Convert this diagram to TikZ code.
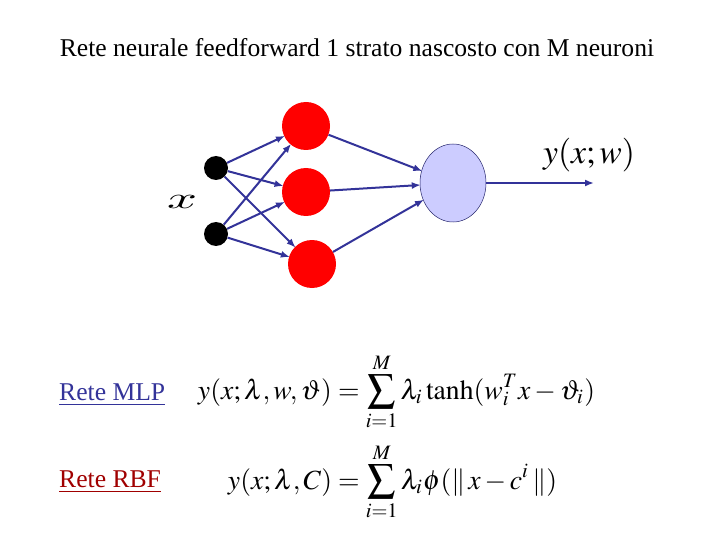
\documentclass[tikz,border=0pt]{standalone}
\usepackage{mathptmx}
\usepackage[no-math]{fontspec}
\setmainfont{Liberation Serif}
\usetikzlibrary{arrows.meta,shapes.geometric}
\definecolor{arrowblue}{HTML}{333399}
\definecolor{outfill}{HTML}{CCCCFF}
\definecolor{mlpblue}{HTML}{333399}
\definecolor{rbfred}{HTML}{A00000}
\tikzset{
  inputnode/.style={circle,fill=black,minimum size=24pt,inner sep=0pt},
  hiddennode/.style={circle,fill=red,minimum size=48pt,inner sep=0pt},
  outnode/.style={ellipse,draw=arrowblue!70!black,line width=0.5pt,fill=outfill,minimum width=66pt,minimum height=78pt,inner sep=0pt},
  conn/.style={draw=arrowblue,line width=2pt,-{Latex[length=9pt,width=7pt]},shorten >=-1pt},
  lbl/.style={inner sep=0pt},
  bigtext/.style={font=\fontsize{25.6}{30}\selectfont}
}
\begin{document}
\begin{tikzpicture}[x=1pt,y=-1pt]
\useasboundingbox (0,0) rectangle (720,540);
\node[lbl,bigtext] (title) at (357,48) {Rete neurale feedforward 1 strato nascosto con M neuroni};
\node[inputnode] (i1) at (216,168) {};
\node[inputnode] (i2) at (216,234) {};
\node[hiddennode] (h1) at (306,126) {};
\node[hiddennode] (h2) at (306,192) {};
\node[hiddennode] (h3) at (312,264) {};
\node[outnode] (o) at (453,183) {};
\coordinate (oend) at (593,183);
\node[lbl] (xl) at (182,202) {\resizebox{30pt}{13pt}{\usefont{OML}{cmm}{m}{it}x}};
\node[lbl] (yl) at (589,155) {\resizebox{92pt}{!}{$y(x;w)$}};
\foreach \a in {i1,i2}{\foreach \b in {h1,h2,h3}{\draw[conn] (\a) -- (\b);}}
\foreach \b in {h1,h2,h3}{\draw[conn] (\b) -- (o);}
\draw[conn] (o) -- (oend);
\node[lbl,bigtext,anchor=west] (mlp) at (59,395) {\color{mlpblue}\underline{Rete MLP}};
\node[lbl,bigtext,anchor=west] (rbf) at (59,482) {\color{rbfred}\underline{Rete RBF}};
\node[lbl] (f1) at (396.5,392) {\resizebox{397pt}{!}{$\displaystyle y(x;\lambda,w,\vartheta)=\sum_{i=1}^{M}\lambda_i\tanh(w_i^T x-\vartheta_i)$}};
\node[lbl] (f2) at (392.5,482) {\resizebox{329pt}{!}{$\displaystyle y(x;\lambda,C)=\sum_{i=1}^{M}\lambda_i\phi(\|\,x-c^i\,\|)$}};
\end{tikzpicture}
\end{document}
